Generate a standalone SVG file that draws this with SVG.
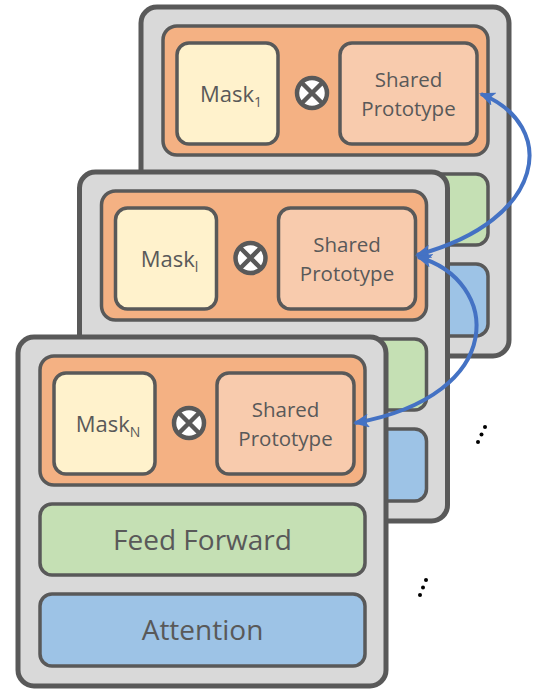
<svg xmlns="http://www.w3.org/2000/svg" width="534" height="691" viewBox="0 0 534 691">
<style>
.card{fill:#D9D9D9;stroke:#595959;stroke-width:5}
.box{stroke:#595959;stroke-width:3.5}
.orange{fill:#F4B183}
.mask{fill:#FFF2CC}
.sp{fill:#F8CBAD}
.green{fill:#C5E0B4}
.blue{fill:#9DC3E6}
.op{fill:#FFFFFF;stroke:#595959;stroke-width:4.5}
.opx{stroke:#595959;stroke-width:4.5}
.t{font-family:"Open Sans","Noto Sans","Liberation Sans",sans-serif;fill:#595959;text-anchor:middle}
.tm{font-size:22px}
.ts{font-size:20.5px}
.tl{font-size:28px}
.conn{fill:none;stroke:#4472C4;stroke-width:4}
</style>
<defs>
<marker id="ah" viewBox="0 0 16 14" refX="14" refY="7" markerWidth="16" markerHeight="14" markerUnits="userSpaceOnUse" orient="auto-start-reverse">
<path d="M0,0 L16,7 L0,14 L4,7 Z" fill="#4472C4"/>
</marker>
<g id="layer">
<rect class="card" x="0" y="0" width="368" height="349" rx="16"/>
<rect class="box orange" x="22" y="19" width="325" height="129" rx="14"/>
<rect class="box mask" x="36" y="36" width="101" height="101" rx="12"/>
<rect class="box sp" x="199" y="36" width="137" height="101" rx="12"/>
<circle class="op" cx="171" cy="86" r="15"/>
<path class="opx" d="M161,76 L181,96 M181,76 L161,96"/>
<rect class="box green" x="22" y="167" width="325" height="71" rx="12"/>
<rect class="box blue" x="22" y="257" width="325" height="72" rx="12"/>
<text class="t ts" x="267.5" y="80">Shared</text>
<text class="t ts" x="267.5" y="109">Prototype</text>
</g>
</defs>
<g id="card1" transform="translate(141,7)">
<use href="#layer"/>
<text class="t tm" x="90" y="95">Mask<tspan font-size="14" dy="5">1</tspan></text>
</g>
<g id="card2" transform="translate(79.5,172)">
<use href="#layer"/>
<text class="t tm" x="90" y="95">Mask<tspan font-size="14" dy="5">l</tspan></text>
</g>
<g id="card3" transform="translate(18,337)">
<use href="#layer"/>
<text class="t tm" x="90" y="95">Mask<tspan font-size="14" dy="5">N</tspan></text>
<text class="t tl" x="184.5" y="213">Feed Forward</text>
<text class="t tl" x="184.5" y="303">Attention</text>
</g>
<g id="connectors">
<path class="conn" d="M481,94 C558,125 548,220 417,255" marker-start="url(#ah)" marker-end="url(#ah)"/>
<path class="conn" d="M418,257 C500,280 510,395 355,423" marker-start="url(#ah)" marker-end="url(#ah)"/>
</g>
<g id="ellipsis" fill="#000000">
<circle cx="485" cy="427" r="2"/>
<circle cx="481.5" cy="434.5" r="2"/>
<circle cx="478" cy="442" r="2"/>
<circle cx="426" cy="580" r="2"/>
<circle cx="423" cy="587.5" r="2"/>
<circle cx="420" cy="595" r="2"/>
</g>
</svg>
